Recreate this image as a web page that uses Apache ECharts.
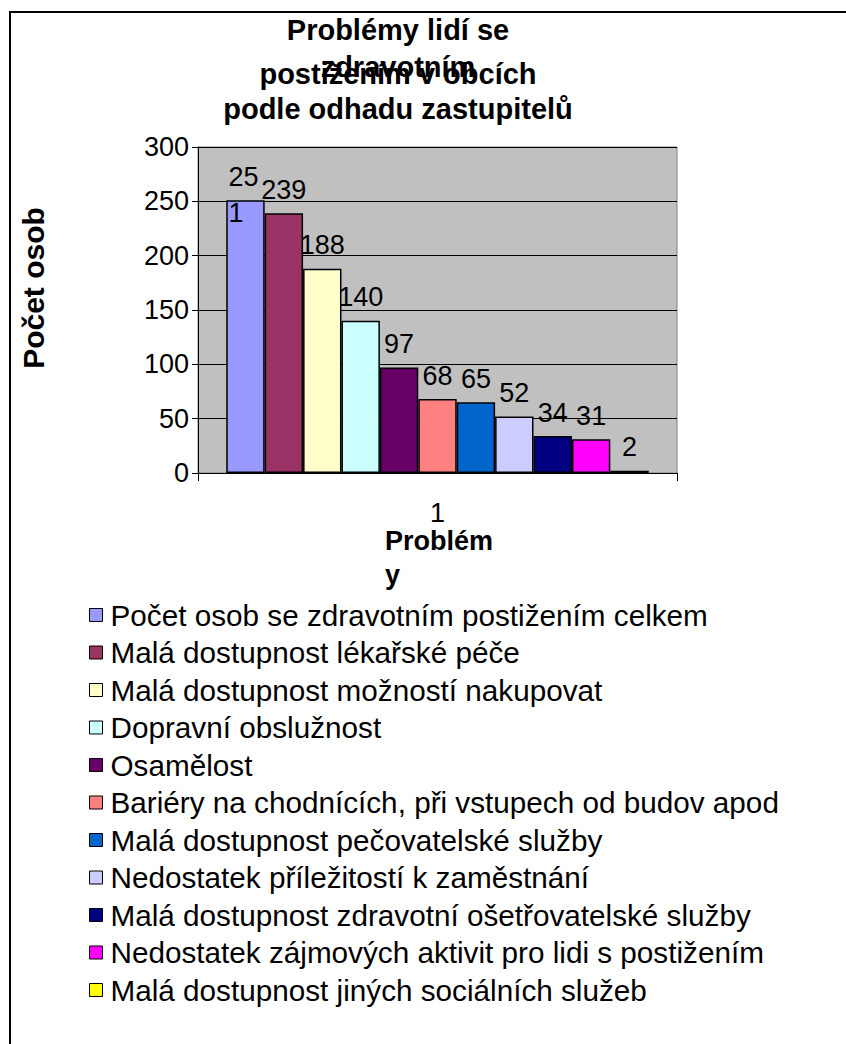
<!DOCTYPE html>
<html>
<head>
<meta charset="utf-8">
<script src="https://cdn.jsdelivr.net/npm/echarts@6/dist/echarts.min.js"></script>
<style>
    html, body { margin: 0; padding: 0; background: #fff; overflow: hidden; }
    #chart { width: 846px; height: 1044px; }
    #frame {
        position: absolute; left: 9px; top: 11px; right: 0; bottom: 0;
        border-top: 2px solid #000; border-left: 2px solid #000;
        pointer-events: none;
    }
</style>
</head>
<body>
<div id="chart"></div>
<div id="frame"></div>
<script>
const titleLines = ['Problémy lidí se', 'zdravotním', 'postižením v obcích', 'podle odhadu zastupitelů'];
const categories = ['1'];
const seriesNames = [
    'Počet osob se zdravotním postižením celkem',
    'Malá dostupnost lékařské péče',
    'Malá dostupnost možností nakupovat',
    'Dopravní obslužnost',
    'Osamělost',
    'Bariéry na chodnících, při vstupech od budov apod',
    'Malá dostupnost pečovatelské služby',
    'Nedostatek příležitostí k zaměstnání',
    'Malá dostupnost zdravotní ošetřovatelské služby',
    'Nedostatek zájmových aktivit pro lidi s postižením',
    'Malá dostupnost jiných sociálních služeb'
];
const seriesValues = [251, 239, 188, 140, 97, 68, 65, 52, 34, 31, 2];
const colors = ['#9999FF', '#993366', '#FFFFCC', '#CCFFFF', '#660066', '#FF8080',
    '#0066CC', '#CCCCFF', '#000080', '#FF00FF', '#FFFF00'];

const font = "'Liberation Sans', Arial, sans-serif";
// title lines overlap in the original, each one gets its own top
const titleTops = [15, 52, 59, 94];

let chart = echarts.init(document.getElementById('chart'), null, {renderer: 'svg'});

let titles = titleLines.map((t, i) => ({
    text: t,
    left: 398,
    top: titleTops[i],
    textAlign: 'center',
    padding: 0,
    textStyle: {fontFamily: font, fontSize: 29, fontWeight: 'bold', color: '#000'}
}));
titles.push({
    text: 'Problém\ny',
    left: 385,
    top: 524,
    padding: 0,
    textStyle: {fontFamily: font, fontSize: 27, fontWeight: 'bold', color: '#000', lineHeight: 34}
});

let series = seriesNames.map((name, i) => {
    let label = {
        show: true,
        position: 'top',
        distance: 10,
        fontFamily: font,
        fontSize: 27,
        color: '#000'
    };
    if (i == 0) {
        // Excel wrapped this one label into two lines
        label = Object.assign(label, {
            width: 33, overflow: 'breakAll', lineHeight: 36,
            align: 'left', offset: [-17, 41]
        });
    }
    return {
        name: name,
        type: 'bar',
        data: [seriesValues[i]],
        barGap: '0%',
        barCategoryGap: '11.8%',
        itemStyle: {color: colors[i], borderColor: '#000', borderWidth: 1.5},
        label: label
    };
});

let option = {
    animation: false,
    title: titles,
    grid: {
        left: 198, right: 169, top: 147, bottom: 571,
        show: true, backgroundColor: '#C0C0C0', borderColor: '#808080', borderWidth: 1
    },
    legend: {
        orient: 'vertical',
        left: 89,
        top: 600,
        padding: 0,
        itemWidth: 13,
        itemHeight: 13,
        itemGap: 7.5,
        icon: 'rect',
        itemStyle: {borderColor: '#000', borderWidth: 1},
        textStyle: {fontFamily: font, fontSize: 29.7, lineHeight: 29, color: '#000', padding: [0, 0, 0, 3]},
        data: seriesNames
    },
    xAxis: {
        type: 'category',
        data: categories,
        axisLine: {lineStyle: {color: '#000', width: 1}},
        axisTick: {show: true, length: 8, lineStyle: {color: '#000'}},
        axisLabel: {fontFamily: font, fontSize: 27, color: '#000', margin: 26},
        splitLine: {show: false}
    },
    yAxis: {
        type: 'value',
        min: 0,
        max: 300,
        interval: 50,
        name: 'Počet osob',
        nameLocation: 'middle',
        nameGap: 150,
        nameTextStyle: {
            fontFamily: font, fontSize: 30, fontWeight: 'bold', color: '#000',
            padding: [0, 0, 0, 44]
        },
        axisLine: {show: true, lineStyle: {color: '#000', width: 1}},
        axisTick: {show: true, length: 6, lineStyle: {color: '#000'}},
        axisLabel: {fontFamily: font, fontSize: 27, color: '#000', margin: 9},
        splitLine: {show: true, lineStyle: {color: '#000', width: 1}}
    },
    series: series
};
chart.setOption(option);
</script>
</body>
</html>
